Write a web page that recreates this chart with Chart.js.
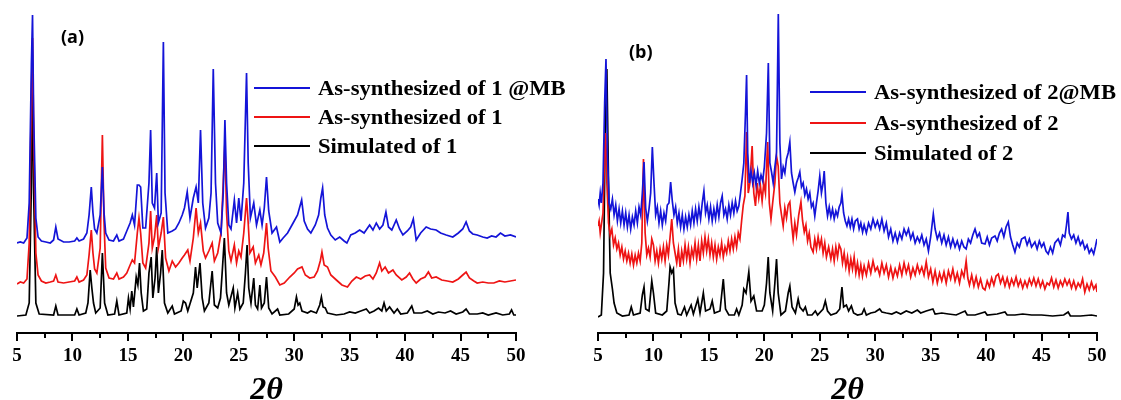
<!DOCTYPE html>
<html>
<head>
<meta charset="utf-8">
<script src="https://cdn.jsdelivr.net/npm/chart.js@4.4.0/dist/chart.umd.min.js"></script>
<style>
  body { margin: 0; background: #fff; }
  #wrap { position: relative; width: 1121px; height: 400px; overflow: hidden; }
  .panel { position: absolute; top: 0; height: 400px; }
  .panel canvas { display: block; }
  .tag { position: absolute; font: bold 18px "Open Sans", "Liberation Sans", sans-serif; color: #000; }
  .legend { position: absolute; font: bold 20px "Liberation Serif", "Times New Roman", serif; color: #000; }
  .legend .row { position: absolute; left: 0; white-space: nowrap; height: 20px; line-height: 20px; }
  .legend .swatch { position: absolute; left: 0; top: 9px; width: 56px; height: 2px; }
  .legend .txt { position: absolute; left: 64px; top: 0; transform: scaleX(1.13); transform-origin: 0 50%; }
  .axis { position: absolute; background: #000; z-index: 5; }
</style>
</head>
<body>
<div id="wrap">
  <div class="panel" style="left:0;width:560px"><canvas id="chartA" width="560" height="400"></canvas></div>
  <div class="panel" style="left:560px;width:561px"><canvas id="chartB" width="561" height="400"></canvas></div>
  <div class="tag" style="left:61px;top:24px">(a)</div>
  <div class="tag" style="left:629px;top:39px">(b)</div>
  <div class="legend" id="legendA" style="left:254px;top:78px"></div>
  <div class="legend" id="legendB" style="left:810px;top:82px"></div>
</div>
<script>
// x = 2theta (deg), y = intensity with stacking offset (a.u.)
const xTicks = [5, 10, 15, 20, 25, 30, 35, 40, 45, 50];

const legendA = ['As-synthesized of 1 @MB', 'As-synthesized of 1', 'Simulated of 1'];
const legendB = ['As-synthesized of 2@MB', 'As-synthesized of 2', 'Simulated of 2'];

// panel (a)
const mbA = [[5,90],[5.3,91],[5.6,90],[5.9,95],[6.1,130],[6.3,270],[6.4,318],[6.5,220],[6.7,115],[6.9,96],[7.2,92],[7.6,91],[8.0,90],[8.3,93],[8.5,106],[8.7,94],[9.2,91],[9.7,91],[10.2,92],[10.4,95],[10.6,92],[11.0,94],[11.3,100],[11.5,118],[11.7,146],[11.85,120],[12.0,104],[12.2,100],[12.5,118],[12.7,166],[12.85,120],[13.0,100],[13.3,93],[13.7,92],[14.0,98],[14.2,92],[14.6,94],[14.9,102],[15.2,110],[15.4,118],[15.6,108],[15.85,148],[16.0,148],[16.15,146],[16.35,105],[16.6,105],[16.9,150],[17.05,203],[17.2,130],[17.4,125],[17.6,160],[17.75,110],[18.0,120],[18.2,291],[18.35,140],[18.6,100],[19.0,102],[19.3,104],[19.6,110],[19.9,118],[20.1,125],[20.35,141],[20.6,115],[20.9,135],[21.15,146],[21.35,130],[21.55,203],[21.75,130],[22.0,105],[22.3,115],[22.5,140],[22.7,264],[22.9,150],[23.1,110],[23.4,100],[23.6,140],[23.75,213],[23.9,150],[24.1,108],[24.3,104],[24.6,133],[24.8,110],[25.0,135],[25.2,112],[25.45,150],[25.7,260],[25.85,170],[26.05,115],[26.35,130],[26.6,108],[26.9,123],[27.1,108],[27.3,125],[27.5,156],[27.7,122],[28.0,100],[28.4,106],[28.7,91],[29.0,95],[29.4,100],[29.9,110],[30.3,118],[30.67,133],[30.9,112],[31.2,104],[31.5,100],[31.9,108],[32.2,118],[32.4,135],[32.56,145],[32.75,118],[33.0,105],[33.3,98],[33.7,93],[34.1,96],[34.5,92],[34.75,90],[35.1,98],[35.5,100],[35.9,103],[36.3,100],[36.8,108],[37.1,103],[37.4,110],[37.7,104],[38.0,108],[38.27,121],[38.5,106],[38.8,103],[39.2,113],[39.5,104],[39.8,98],[40.2,102],[40.5,106],[40.74,114],[41.0,93],[41.4,100],[41.9,106],[42.3,104],[42.8,103],[43.2,100],[43.7,98],[44.3,96],[44.8,100],[45.2,104],[45.5,111],[45.8,102],[46.1,99],[46.5,98],[47.0,96],[47.4,95],[47.8,97],[48.2,96],[48.6,100],[49.0,97],[49.5,98],[50,96]];

const asA = [[5,49],[5.3,51],[5.6,50],[5.9,54],[6.1,90],[6.3,240],[6.4,295],[6.5,200],[6.7,80],[6.9,58],[7.2,52],[7.6,50],[8.0,51],[8.3,52],[8.5,58],[8.7,51],[9.2,50],[9.7,51],[10.2,52],[10.4,56],[10.6,51],[11.0,53],[11.3,58],[11.5,78],[11.7,103],[11.85,80],[12.0,64],[12.2,60],[12.5,85],[12.7,198],[12.85,110],[13.0,65],[13.3,55],[13.7,54],[14.0,60],[14.2,54],[14.6,56],[14.9,60],[15.2,68],[15.4,73],[15.6,70],[15.85,100],[16.0,115],[16.15,100],[16.35,70],[16.6,65],[16.9,90],[17.05,122],[17.2,85],[17.4,96],[17.6,118],[17.75,85],[18.0,100],[18.2,116],[18.4,75],[18.7,62],[19.0,72],[19.3,66],[19.6,70],[19.9,75],[20.1,78],[20.4,83],[20.6,72],[20.9,95],[21.15,125],[21.35,100],[21.55,110],[21.8,82],[22.0,75],[22.3,82],[22.6,90],[22.8,72],[23.1,80],[23.4,100],[23.6,150],[23.75,190],[23.9,120],[24.1,82],[24.3,72],[24.6,88],[24.8,70],[25.0,82],[25.2,76],[25.45,100],[25.7,135],[25.85,110],[26.0,80],[26.3,86],[26.5,70],[26.8,78],[27.0,68],[27.25,80],[27.5,110],[27.65,85],[27.9,62],[28.3,56],[28.7,48],[29.1,50],[29.6,56],[30.0,60],[30.3,64],[30.7,66],[31.0,58],[31.4,55],[31.8,56],[32.1,62],[32.35,72],[32.5,81],[32.7,68],[33.0,66],[33.3,58],[33.8,53],[34.3,48],[34.8,46],[35.2,52],[35.6,56],[36.0,54],[36.4,57],[36.8,58],[37.1,54],[37.4,60],[37.7,70],[37.9,62],[38.2,66],[38.5,60],[38.9,63],[39.2,58],[39.7,53],[40.1,56],[40.4,60],[40.7,54],[41.0,50],[41.4,54],[41.8,56],[42.1,61],[42.4,55],[42.8,56],[43.3,53],[43.8,52],[44.3,51],[44.8,54],[45.2,58],[45.5,61],[45.8,55],[46.2,52],[46.5,50],[47.0,51],[47.5,50],[48.0,50],[48.5,52],[49.0,51],[49.5,52],[50,53]];

const simA = [[5,17],[5.8,18],[6.1,30],[6.3,150],[6.4,266],[6.5,140],[6.7,30],[7.0,19],[8.3,18],[8.5,27],[8.7,18],[10.2,18],[10.4,24],[10.6,18],[11.2,20],[11.4,30],[11.6,63],[11.75,45],[11.9,30],[12.1,20],[12.5,25],[12.7,80],[12.9,30],[13.2,18],[13.8,19],[14.0,32],[14.2,18],[14.9,20],[15.05,35],[15.2,24],[15.35,42],[15.5,26],[15.75,56],[15.9,48],[16.05,70],[16.2,40],[16.4,22],[16.7,24],[16.9,60],[17.1,76],[17.25,35],[17.45,55],[17.6,86],[17.75,40],[17.95,60],[18.1,83],[18.3,30],[18.6,20],[19.0,27],[19.2,19],[19.8,22],[20.0,32],[20.2,30],[20.4,22],[20.9,40],[21.1,66],[21.25,45],[21.5,70],[21.7,35],[21.9,22],[22.3,30],[22.6,62],[22.8,28],[23.1,25],[23.35,35],[23.5,60],[23.7,95],[23.9,40],[24.1,28],[24.5,45],[24.65,25],[24.9,40],[25.1,24],[25.4,30],[25.6,60],[25.75,88],[25.9,45],[26.1,30],[26.35,55],[26.5,28],[26.7,24],[26.9,48],[27.05,25],[27.3,30],[27.5,56],[27.7,25],[28.0,19],[28.5,24],[28.7,18],[29.5,19],[30.0,24],[30.2,36],[30.35,28],[30.5,30],[30.7,22],[31.2,20],[31.5,22],[32.0,20],[32.3,28],[32.45,36],[32.6,26],[32.8,25],[33.0,20],[33.8,18],[34.5,19],[35.0,21],[35.5,20],[36.0,22],[36.5,24],[36.8,20],[37.2,22],[37.6,25],[37.9,22],[38.1,30],[38.3,22],[38.6,26],[39.0,20],[39.3,24],[39.6,19],[40.2,20],[40.6,27],[40.8,20],[41.5,20],[42.0,22],[42.5,19],[43.0,21],[43.6,20],[44.1,22],[44.6,19],[45.2,21],[45.5,24],[45.8,19],[46.5,19],[47.0,20],[47.5,18],[48.2,20],[48.8,18],[49.4,19],[49.6,23],[49.8,18],[50,18]];

// panel (b)
const mbB = [[5.0,134],[5.1,128],[5.2,140],[5.3,130],[5.45,150],[5.6,230],[5.72,274],[5.85,180],[6.0,130],[6.15,124],[6.3,134],[6.45,118],[6.6,128],[6.75,112],[6.9,124],[7.05,110],[7.2,122],[7.35,108],[7.5,120],[7.65,106],[7.8,118],[7.95,104],[8.1,116],[8.25,108],[8.4,122],[8.55,110],[8.7,126],[8.85,118],[9.0,140],[9.15,171],[9.3,125],[9.45,112],[9.6,124],[9.75,140],[9.9,186],[10.05,150],[10.2,118],[10.35,126],[10.5,110],[10.65,122],[10.8,108],[10.95,120],[11.1,112],[11.25,128],[11.4,130],[11.55,151],[11.7,132],[11.85,118],[12.0,126],[12.15,110],[12.3,120],[12.45,106],[12.6,118],[12.75,104],[12.9,116],[13.05,106],[13.2,118],[13.35,108],[13.5,122],[13.65,110],[13.8,124],[13.95,112],[14.1,126],[14.25,114],[14.4,130],[14.55,142],[14.7,120],[14.85,128],[15.0,114],[15.15,126],[15.3,112],[15.45,124],[15.6,114],[15.75,128],[15.9,116],[16.05,130],[16.2,137],[16.35,118],[16.5,124],[16.65,114],[16.8,128],[16.95,118],[17.1,130],[17.25,120],[17.4,132],[17.55,122],[17.7,127],[17.85,140],[18.0,154],[18.15,170],[18.3,220],[18.4,258],[18.5,180],[18.65,150],[18.8,162],[18.95,150],[19.1,160],[19.25,148],[19.4,162],[19.55,150],[19.7,158],[19.85,152],[20.0,166],[20.2,200],[20.36,270],[20.5,170],[20.65,161],[20.8,150],[20.95,166],[21.1,180],[21.26,319],[21.4,190],[21.55,154],[21.7,166],[21.85,160],[22.0,174],[22.15,180],[22.3,191],[22.45,160],[22.6,150],[22.75,141],[22.9,150],[23.05,155],[23.2,161],[23.35,146],[23.5,150],[23.65,138],[23.8,144],[23.95,134],[24.1,140],[24.25,126],[24.4,130],[24.55,117],[24.7,130],[24.85,142],[25.0,157],[25.15,140],[25.3,150],[25.4,162],[25.55,130],[25.7,117],[25.85,126],[26.0,116],[26.15,124],[26.3,114],[26.45,122],[26.6,117],[26.75,126],[26.9,130],[27.0,139],[27.15,120],[27.3,112],[27.45,107],[27.6,114],[27.75,106],[27.9,114],[28.05,104],[28.2,112],[28.4,114],[28.55,104],[28.7,110],[28.86,101],[29.0,108],[29.2,100],[29.4,110],[29.6,104],[29.8,114],[30.0,106],[30.2,112],[30.4,104],[30.6,114],[30.8,102],[31.0,110],[31.2,96],[31.4,104],[31.6,92],[31.8,100],[32.0,91],[32.2,100],[32.4,94],[32.6,104],[32.8,98],[33.0,104],[33.2,94],[33.4,100],[33.6,90],[33.8,96],[34.0,91],[34.2,98],[34.4,88],[34.6,94],[34.8,82],[35.0,96],[35.24,119],[35.4,104],[35.6,94],[35.8,100],[36.0,90],[36.2,98],[36.4,88],[36.6,96],[36.8,86],[37.0,94],[37.2,86],[37.4,92],[37.6,84],[37.8,92],[38.0,86],[38.2,84],[38.4,94],[38.6,90],[38.8,98],[39.0,104],[39.2,96],[39.4,100],[39.6,90],[39.9,89],[40.1,96],[40.3,88],[40.5,95],[40.8,97],[41.0,92],[41.2,100],[41.4,104],[41.6,96],[41.8,106],[42.0,111],[42.2,96],[42.4,88],[42.6,81],[42.8,90],[43.0,86],[43.2,94],[43.5,96],[43.7,88],[43.9,94],[44.1,86],[44.4,91],[44.6,84],[44.8,92],[45.0,86],[45.2,90],[45.4,82],[45.6,79],[45.8,86],[46.0,80],[46.2,90],[46.5,94],[46.7,88],[46.9,98],[47.1,96],[47.25,108],[47.38,121],[47.5,100],[47.7,94],[47.9,98],[48.1,90],[48.3,96],[48.5,88],[48.7,92],[48.9,84],[49.1,88],[49.3,80],[49.5,84],[49.7,79],[49.85,86],[50.0,94]];

const asB = [[5.0,107],[5.1,112],[5.2,100],[5.3,108],[5.45,120],[5.6,180],[5.7,200],[5.8,150],[5.95,110],[6.1,98],[6.25,104],[6.4,88],[6.55,95],[6.7,84],[6.85,90],[7.0,78],[7.15,86],[7.3,74],[7.45,82],[7.6,72],[7.75,80],[7.9,70],[8.05,79],[8.2,68],[8.35,78],[8.5,70],[8.65,80],[8.8,72],[8.95,90],[9.1,174],[9.25,100],[9.4,78],[9.55,85],[9.7,76],[9.85,94],[10.0,88],[10.15,72],[10.3,82],[10.45,70],[10.6,84],[10.75,74],[10.9,86],[11.05,72],[11.2,88],[11.35,78],[11.5,96],[11.65,114],[11.8,90],[11.95,80],[12.1,70],[12.25,84],[12.4,66],[12.55,82],[12.7,72],[12.85,88],[13.0,74],[13.15,86],[13.3,70],[13.45,84],[13.6,76],[13.75,90],[13.9,74],[14.05,88],[14.2,72],[14.35,92],[14.5,80],[14.65,96],[14.8,82],[14.95,94],[15.1,78],[15.25,90],[15.4,76],[15.55,88],[15.7,74],[15.85,86],[16.0,78],[16.15,90],[16.3,76],[16.45,86],[16.6,80],[16.75,92],[16.9,82],[17.05,94],[17.2,84],[17.35,96],[17.5,86],[17.65,100],[17.8,94],[17.95,112],[18.1,128],[18.25,137],[18.4,201],[18.55,140],[18.7,150],[18.9,187],[19.05,140],[19.2,127],[19.35,150],[19.5,135],[19.65,147],[19.8,132],[19.95,150],[20.1,140],[20.3,191],[20.45,130],[20.6,114],[20.75,130],[20.95,150],[21.1,177],[21.25,167],[21.4,130],[21.55,118],[21.7,107],[21.85,125],[22.0,115],[22.15,128],[22.3,131],[22.45,110],[22.6,94],[22.75,110],[22.9,98],[23.1,118],[23.3,131],[23.45,112],[23.6,101],[23.75,108],[23.9,92],[24.05,100],[24.2,86],[24.4,81],[24.55,94],[24.7,84],[24.85,96],[25.0,86],[25.15,94],[25.3,80],[25.45,90],[25.6,76],[25.8,86],[26.0,74],[26.15,84],[26.3,72],[26.45,86],[26.6,76],[26.75,88],[26.9,84],[27.05,70],[27.2,80],[27.35,66],[27.5,76],[27.65,62],[27.8,74],[27.95,64],[28.1,76],[28.25,60],[28.4,70],[28.55,58],[28.7,68],[28.85,57],[29.0,67],[29.2,58],[29.4,70],[29.6,60],[29.8,72],[30.0,62],[30.2,66],[30.4,58],[30.6,70],[30.8,60],[31.0,68],[31.2,56],[31.4,66],[31.6,55],[31.8,64],[32.0,57],[32.2,68],[32.4,58],[32.6,70],[32.8,60],[33.0,68],[33.2,56],[33.4,65],[33.6,58],[33.8,68],[34.0,60],[34.2,66],[34.4,58],[34.6,71],[34.8,56],[35.0,64],[35.2,51],[35.4,62],[35.6,50],[35.8,60],[36.0,52],[36.2,61],[36.4,50],[36.6,62],[36.8,54],[37.0,64],[37.2,52],[37.4,60],[37.6,50],[37.8,62],[38.0,56],[38.2,72],[38.35,55],[38.5,48],[38.7,58],[38.9,47],[39.1,56],[39.3,46],[39.5,54],[39.7,45],[39.9,43],[40.1,52],[40.3,46],[40.5,55],[40.7,48],[40.9,57],[41.1,59],[41.3,50],[41.5,56],[41.7,47],[41.9,55],[42.1,46],[42.3,54],[42.5,48],[42.7,56],[42.9,47],[43.1,53],[43.3,45],[43.5,52],[43.7,46],[43.9,54],[44.1,48],[44.3,55],[44.5,47],[44.7,54],[44.9,46],[45.1,52],[45.3,44],[45.5,50],[45.7,48],[45.9,55],[46.1,46],[46.3,53],[46.5,45],[46.7,52],[46.9,47],[47.1,54],[47.3,48],[47.5,53],[47.7,45],[47.9,52],[48.1,44],[48.3,50],[48.5,46],[48.7,54],[48.9,41],[49.1,49],[49.3,43],[49.5,51],[49.7,44],[49.9,48],[50.0,41]];

const simB = [[5,16],[5.3,18],[5.5,60],[5.65,200],[5.8,264],[5.95,150],[6.1,60],[6.3,44],[6.45,30],[6.7,20],[7.2,17],[7.8,18],[8.0,26],[8.2,18],[8.8,20],[9.0,38],[9.15,46],[9.3,24],[9.6,22],[9.85,52],[10.0,40],[10.2,20],[10.8,18],[11.2,22],[11.4,50],[11.5,66],[11.65,60],[11.8,64],[11.95,30],[12.2,19],[12.5,18],[12.8,26],[13.0,18],[13.4,28],[13.6,19],[14.0,34],[14.2,20],[14.5,40],[14.7,22],[15.1,24],[15.3,32],[15.5,20],[16.0,22],[16.3,54],[16.5,24],[16.8,18],[17.3,18],[17.5,24],[17.7,18],[18.0,28],[18.15,44],[18.35,40],[18.6,61],[18.8,32],[19.05,37],[19.3,22],[19.8,22],[20.0,28],[20.2,50],[20.35,76],[20.5,40],[20.75,22],[20.95,50],[21.1,74],[21.25,40],[21.5,18],[21.9,22],[22.15,40],[22.3,47],[22.5,26],[22.8,20],[23.05,34],[23.2,26],[23.5,22],[23.7,26],[23.9,18],[24.3,18],[24.6,22],[24.8,18],[25.3,24],[25.5,32],[25.7,22],[26.0,18],[26.5,20],[26.8,24],[27.0,46],[27.15,26],[27.4,28],[27.6,22],[27.85,27],[28.05,20],[28.4,18],[28.8,19],[29.0,24],[29.2,18],[29.6,20],[30.0,21],[30.4,24],[30.6,21],[31.0,20],[31.5,19],[31.9,21],[32.3,19],[32.8,22],[33.3,20],[33.8,23],[34.1,20],[34.6,22],[35.2,24],[35.4,19],[36.0,20],[36.6,19],[37.3,18],[38.1,22],[38.3,18],[39.0,18],[39.9,21],[40.1,18],[41.0,19],[41.7,21],[41.9,18],[42.6,18],[43.3,19],[44.1,18],[45.0,18],[46.0,17],[47.0,18],[47.4,21],[47.6,17],[48.5,17],[49.5,18],[50,17]];

const colors = ['#1414d8', '#ee1414', '#000000'];

const toPoints = (arr) => arr.map(([x, y]) => ({ x, y }));

// tick marks and axis line on the canvas
const axisTicks = {
  id: 'axisTicks',
  afterDraw(chart) {
    const sc = chart.scales.x;
    const ctx = chart.ctx;
    const y0 = Math.round(chart.chartArea.bottom) - 1;
    ctx.save();
    ctx.fillStyle = '#000000';
    const l = Math.round(sc.getPixelForValue(xTicks[0]));
    const r = Math.round(sc.getPixelForValue(xTicks[xTicks.length - 1]));
    ctx.fillRect(l - 1, y0, r - l + 2, 2);
    for (let i = 0; i < xTicks.length; i++) {
      const px = Math.round(sc.getPixelForValue(xTicks[i]));
      ctx.fillRect(px - 1, y0, 2, 9);
      if (i < xTicks.length - 1) {
        const mx = Math.round(sc.getPixelForValue((xTicks[i] + xTicks[i + 1]) / 2));
        ctx.fillRect(mx - 1, y0, 2, 6);
      }
    }
    ctx.restore();
  }
};

function makeChart(id, series, pad) {
  return new Chart(document.getElementById(id), {
    type: 'line',
    data: {
      datasets: series.map((s, i) => ({
        data: toPoints(s),
        borderColor: colors[i],
        borderWidth: 1.7,
        pointRadius: 0,
        tension: 0,
      })),
    },
    options: {
      responsive: false,
      animation: false,
      layout: { padding: pad },
      plugins: { legend: { display: false }, tooltip: { enabled: false } },
      scales: {
        x: {
          type: 'linear',
          min: 5,
          max: 50,
          afterBuildTicks: (axis) => { axis.ticks = xTicks.map(v => ({ value: v })); },
          grid: { display: false, drawOnChartArea: false, drawTicks: true, tickLength: 9 },
          border: { display: false },
          ticks: {
            color: '#000',
            padding: 3,
            maxRotation: 0,
            font: { family: '"Liberation Serif", "Times New Roman", serif', size: 19, weight: 'bold' },
          },
          title: {
            display: true,
            text: '2θ',
            color: '#000',
            padding: { top: 2, bottom: 0 },
            font: { family: '"Liberation Serif", "Times New Roman", serif', size: 32, weight: 'bold', style: 'italic', lineHeight: 1.1 },
          },
        },
        y: { display: false, min: 0, max: 328 },
      },
    },
    plugins: [axisTicks],
  });
}

// the same axis, placed as page elements from the chart's own scale
function addAxis(chart, offsetX) {
  const wrap = document.getElementById('wrap');
  const sc = chart.scales.x;
  const y0 = Math.round(chart.chartArea.bottom) - 1;
  const bar = (x, y, w, h) => {
    const d = document.createElement('div');
    d.className = 'axis';
    d.style.left = x + 'px';
    d.style.top = y + 'px';
    d.style.width = w + 'px';
    d.style.height = h + 'px';
    wrap.appendChild(d);
  };
  const l = Math.round(sc.getPixelForValue(xTicks[0]));
  const r = Math.round(sc.getPixelForValue(xTicks[xTicks.length - 1]));
  bar(offsetX + l - 1, y0, r - l + 2, 2);
  for (let i = 0; i < xTicks.length; i++) {
    bar(offsetX + Math.round(sc.getPixelForValue(xTicks[i])) - 1, y0, 2, 9);
    if (i < xTicks.length - 1) {
      bar(offsetX + Math.round(sc.getPixelForValue((xTicks[i] + xTicks[i + 1]) / 2)) - 1, y0, 2, 6);
    }
  }
}

function makeLegend(id, labels, rowGap) {
  const box = document.getElementById(id);
  labels.forEach((text, i) => {
    const row = document.createElement('div');
    row.className = 'row';
    row.style.top = (i * rowGap) + 'px';
    const sw = document.createElement('span');
    sw.className = 'swatch';
    sw.style.background = colors[i];
    const tx = document.createElement('span');
    tx.className = 'txt';
    tx.textContent = text;
    row.appendChild(sw);
    row.appendChild(tx);
    box.appendChild(row);
  });
}

const chartA = makeChart('chartA', [mbA, asA, simA], { left: 17, right: 44, top: 5, bottom: -8 });
const chartB = makeChart('chartB', [mbB, asB, simB], { left: 38, right: 24, top: 5, bottom: -8 });
addAxis(chartA, 0);
addAxis(chartB, 560);
makeLegend('legendA', legendA, 29);
makeLegend('legendB', legendB, 30.5);
</script>
</body>
</html>
